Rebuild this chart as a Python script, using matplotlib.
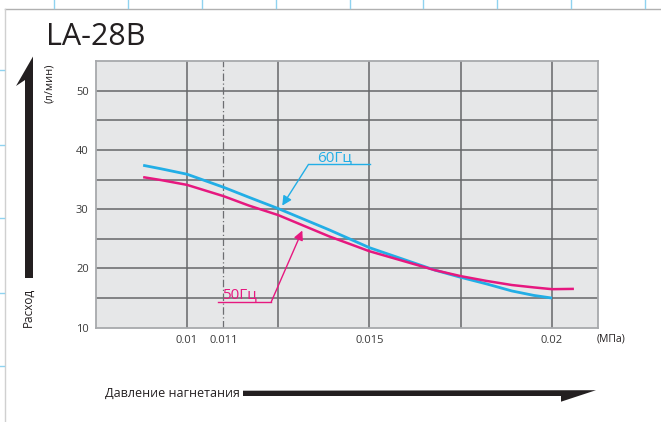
import matplotlib
matplotlib.use("Agg")
import matplotlib.pyplot as plt
from matplotlib.patches import Polygon
from matplotlib.lines import Line2D

plt.rcParams['font.family'] = ['Open Sans', 'DejaVu Sans']

# ---- data ----
p60 = [0.0088, 0.0093, 0.0100, 0.0110, 0.0117, 0.0125, 0.0139, 0.0150, 0.0168, 0.0175,
       0.0182, 0.0189, 0.0195, 0.0200]
q60 = [37.4, 36.8, 35.9, 33.7, 32.0, 30.1, 26.5, 23.5, 19.7, 18.5,
       17.4, 16.2, 15.45, 15.0]
p50 = [0.0088, 0.0093, 0.0100, 0.0110, 0.0117, 0.0125, 0.0139, 0.0150, 0.0168, 0.0175,
       0.0182, 0.0189, 0.0195, 0.0200, 0.0206]
q50 = [35.4, 34.9, 34.1, 32.2, 30.6, 29.0, 25.4, 22.9, 19.7, 18.7,
       17.9, 17.2, 16.8, 16.5, 16.55]
xticks = [0.01, 0.011, 0.015, 0.02]
xtick_labels = ['0.01', '0.011', '0.015', '0.02']
yticks = [10, 20, 30, 40, 50]
xgrid = [0.01, 0.0125, 0.015, 0.0175, 0.02]
ygrid = [15, 20, 25, 30, 35, 40, 45, 50]
title = 'LA-28B'

BLUE = '#22aee6'
PINK = '#e6187f'
W, H = 661, 422

fig = plt.figure(figsize=(6.61, 4.22), dpi=100)

def fx(x):
    return x / W

def fy(y):
    return 1 - y / H

ax = fig.add_axes([fx(95.7), fy(327.7), fx(598) - fx(95.7), fy(61) - fy(327.7)])
ax.set_facecolor('#e6e7e8')
ax.set_xlim(0.0075, 0.02126)
ax.set_ylim(10, 55)

for g in xgrid:
    ax.axvline(g, color='#656669', lw=1.1, zorder=1)
for g in ygrid:
    ax.axhline(g, color='#656669', lw=1.1, zorder=1)
ax.axvline(0.011, color='#6d6e71', lw=0.9, ls=(0, (6, 2, 1, 2)), zorder=1)

ax.plot(p60, q60, color=BLUE, lw=2.0, solid_capstyle='butt', solid_joinstyle='round', zorder=3)
ax.plot(p50, q50, color=PINK, lw=1.8, solid_capstyle='butt', solid_joinstyle='round', zorder=4)

for s in ax.spines.values():
    s.set_color('#a7a9ac')
    s.set_linewidth(1.3)

ax.set_xticks(xticks)
ax.set_xticklabels(xtick_labels)
ax.set_yticks(yticks)
ax.tick_params(length=0, labelsize=8, colors='#3a3a3a', pad=5)

# annotations
ax.annotate('', xy=(0.01261, 30.6), xytext=(0.01333, 37.56),
            arrowprops=dict(arrowstyle='-|>', color=BLUE, lw=1.0, mutation_scale=14,
                            shrinkA=0, shrinkB=0), zorder=5)
ax.plot([0.01333, 0.01501], [37.56, 37.56], color=BLUE, lw=1.0, zorder=5)
ax.text(0.01405, 38.2, '60Гц', color=BLUE, fontsize=11, ha='center', va='baseline', zorder=5)

ax.annotate('', xy=(0.01316, 26.4), xytext=(0.01231, 14.38),
            arrowprops=dict(arrowstyle='-|>', color=PINK, lw=1.0, mutation_scale=14,
                            shrinkA=0, shrinkB=0), zorder=5)
ax.plot([0.01086, 0.01231], [14.38, 14.38], color=PINK, lw=1.0, zorder=5)
ax.text(0.01144, 15.0, '50Гц', color=PINK, fontsize=11, ha='center', va='baseline', zorder=5)

# title and axis texts
fig.text(fx(46), fy(45), title, fontsize=22, color='#231f20', ha='left', va='baseline')
fig.text(fx(28.5), fy(307), 'Расход', fontsize=8.5, color='#231f20', rotation=90,
         ha='center', va='center')
fig.text(fx(50), fy(83), '(л/мин)', fontsize=8, color='#231f20', rotation=90,
         ha='center', va='center')
fig.text(fx(240), fy(393.5), 'Давление нагнетания', fontsize=9, color='#231f20',
         ha='right', va='center')
fig.text(fx(597), fy(339), '(МПа)', fontsize=7.5, color='#231f20', ha='left', va='center')

# half arrows
left_arrow = [(33, 56.5), (16, 86), (25, 80), (25, 278), (33, 278)]
fig.patches.append(Polygon([(fx(x), fy(y)) for x, y in left_arrow], closed=True,
                           transform=fig.transFigure, facecolor='#231f20', edgecolor='none'))
bottom_arrow = [(243, 390.7), (596, 390.2), (561, 401.7), (561, 396), (243, 396)]
fig.patches.append(Polygon([(fx(x), fy(y)) for x, y in bottom_arrow], closed=True,
                           transform=fig.transFigure, facecolor='#231f20', edgecolor='none'))

# page frame and crop marks
fig.add_artist(Line2D([fx(5), fx(661)], [fy(9), fy(9)], color='#b0b0b0', lw=1.0))
fig.add_artist(Line2D([fx(5), fx(5)], [fy(9), fy(422)], color='#d0d0d0', lw=1.0))
for x in [54, 128, 202, 276, 350, 423, 497, 571, 645]:
    fig.add_artist(Line2D([fx(x), fx(x)], [fy(0), fy(8)], color='#8fd3f0', lw=1.0))
for y in [70, 145, 218, 293, 366]:
    fig.add_artist(Line2D([fx(0), fx(4)], [fy(y), fy(y)], color='#8fd3f0', lw=1.0))

fig.savefig('out.png', dpi=100)
